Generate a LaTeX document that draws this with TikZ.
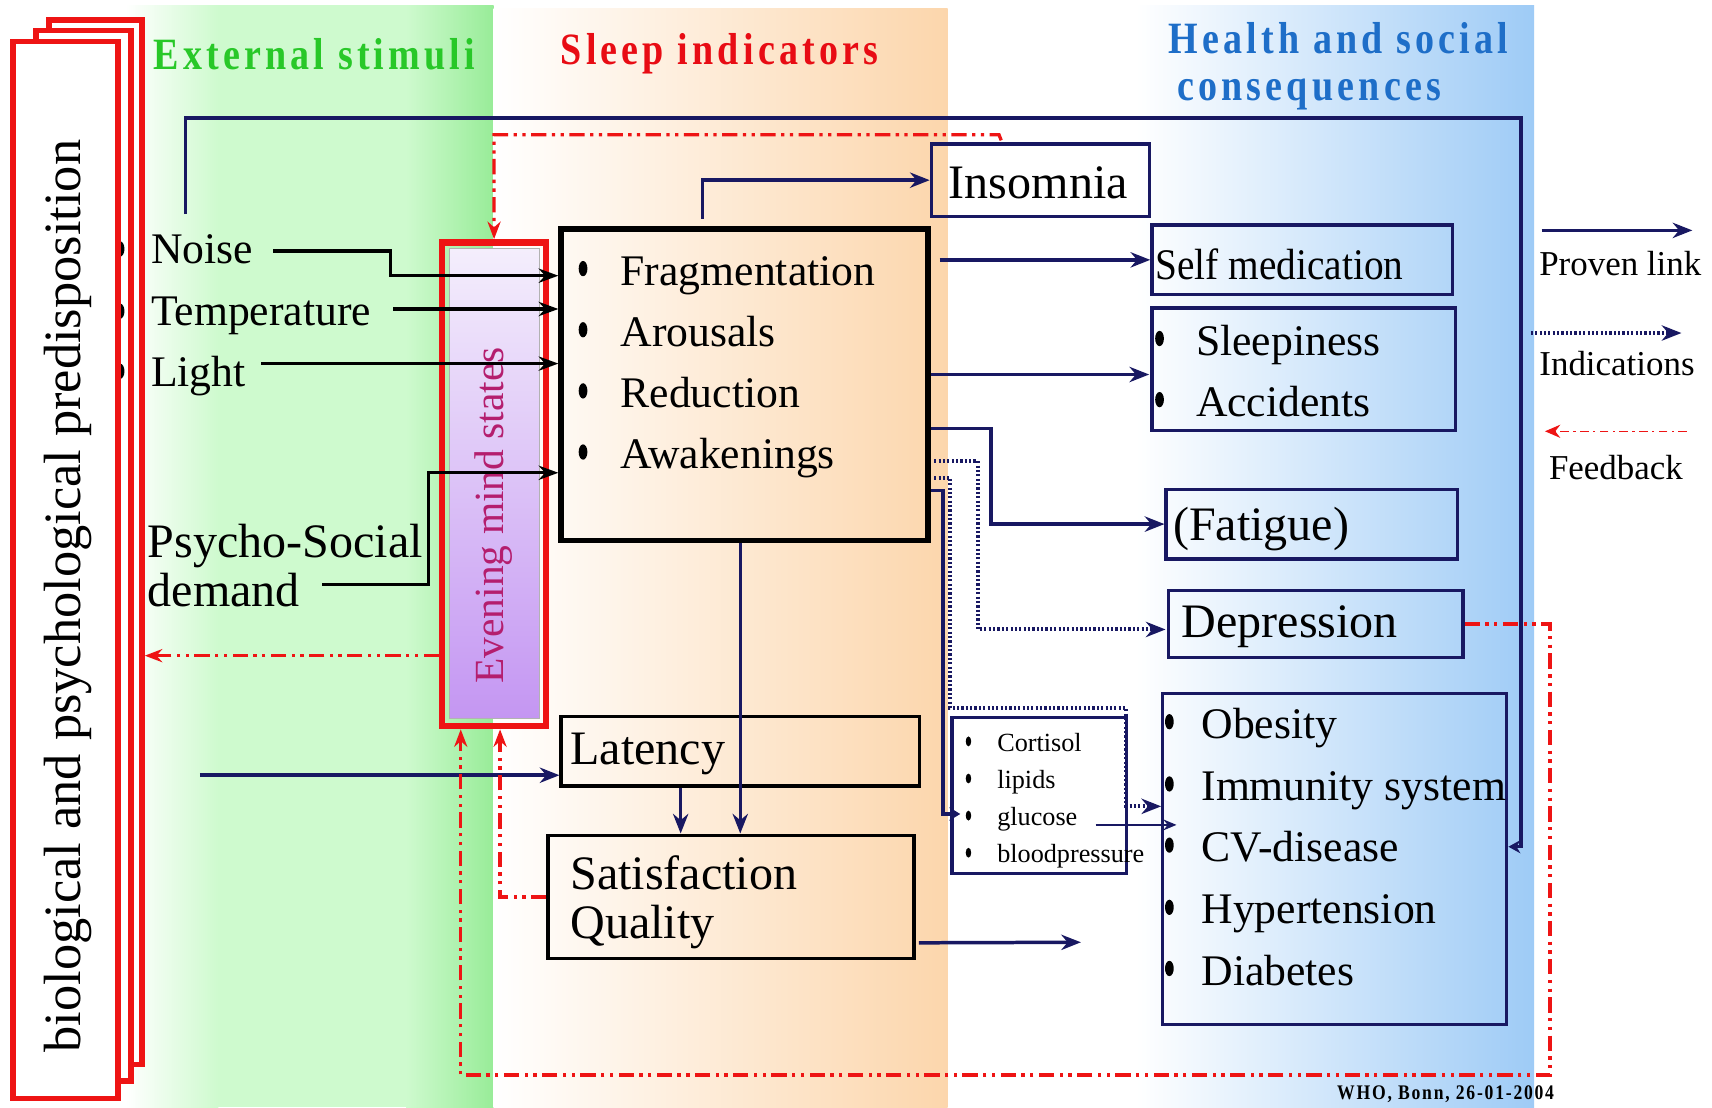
\documentclass[tikz,border=0pt]{standalone}
\usepackage{fontspec}
\setmainfont{Liberation Serif}
\newfontfamily\hdfont[LetterSpace=11]{Liberation Serif Bold}
\newfontfamily\whofont[LetterSpace=10]{Liberation Serif Bold}
\usetikzlibrary{arrows.meta,calc,fit,shapes.geometric}
\definecolor{navy}{RGB}{24,24,98}
\definecolor{redA}{RGB}{238,20,20}
\definecolor{grA}{RGB}{206,250,206}
\definecolor{grB}{RGB}{152,236,152}
\definecolor{orA}{RGB}{252,214,172}
\definecolor{blA}{RGB}{158,203,246}
\definecolor{hdG}{RGB}{40,200,40}
\definecolor{hdR}{RGB}{232,12,20}
\definecolor{hdB}{RGB}{30,110,200}
\definecolor{evT}{RGB}{180,30,110}
\definecolor{evTop}{RGB}{244,238,252}
\definecolor{evBot}{RGB}{196,150,242}
\begin{document}
\begin{tikzpicture}[x=0.5pt,y=-0.5pt,
 navyarr/.style={draw=navy,line width=1.6pt,-{Stealth[length=9pt,width=7pt]}},
 blackarr/.style={draw=black,line width=1.5pt,-{Stealth[length=9pt,width=6.5pt]}},
 dotarr/.style={draw=navy,line width=1.8pt,dash pattern=on 1pt off 1pt,-{Stealth[length=9pt,width=7pt]}},
 fbarr/.style={draw=redA,line width=1.5pt,dash pattern=on 7pt off 2.5pt on 1.5pt off 2.5pt on 1.5pt off 2.5pt,-{Stealth[length=8pt,width=6pt]}},
 stackbox/.style={draw=redA,line width=2.6pt,fill=white,inner sep=0pt},
 navybox/.style={draw=navy,line width=1.5pt,inner sep=0pt},
 blackbox/.style={draw=black,line width=1.6pt,inner sep=0pt},
 bulletdot/.style={ellipse,fill=black,minimum width=4pt,minimum height=7pt,inner sep=0pt},
 smalldot/.style={ellipse,fill=black,minimum width=2.5pt,minimum height=4.5pt,inner sep=0pt},
 txa/.style={inner sep=0pt,anchor=west,font=\fontsize{20}{24}\selectfont,text height=13.2pt,text depth=0pt},
 txb/.style={inner sep=0pt,anchor=west,font=\fontsize{22}{26}\selectfont,text height=14.6pt,text depth=0pt},
 txl/.style={inner sep=0pt,font=\fontsize{16}{19}\selectfont},
 txs/.style={inner sep=0pt,anchor=west,font=\fontsize{12}{14}\selectfont,text height=8pt,text depth=0pt},
 hdr/.style={inner sep=0pt,anchor=base,font=\hdfont\fontsize{20.5}{24}\selectfont},
]
\useasboundingbox (0,0) rectangle (1568,1014);
\fill[white] (0,0) rectangle (1568,1014);
% background panels
\shade[left color=white,right color=grA] (115,5) rectangle (200,1014);
\fill[grA] (200,5) rectangle (372,1014);
\shade[left color=grA,right color=grB] (372,5) rectangle (452,1014);
\shade[left color=white,right color=orA] (452,8) rectangle (868,1014);
\shade[left color=white,right color=blA] (1040,5) rectangle (1405,1014);
% headers
\node[hdr,text=hdG] (hExt) at (288,64) {\scalebox{0.85}[1]{External stimuli}};
\node[hdr,text=hdR] (hSleep) at (659,59) {\scalebox{0.85}[1]{Sleep indicators}};
\node[hdr,text=hdB] (hHealthA) at (1226,49) {\scalebox{0.85}[1]{Health and social}};
\node[hdr,text=hdB] (hHealthB) at (1199,92) {\scalebox{0.85}[1]{consequences}};
% red stacked boxes
\node[stackbox,fit={(45,18) (130,975)}] (stkC) {};
\node[stackbox,fit={(33,28) (120,990)}] (stkB) {};
\node[bulletdot] (hb1) at (110,228) {};
\node[bulletdot] (hb2) at (110,285) {};
\node[bulletdot] (hb3) at (110,340) {};
\node[stackbox,fit={(12,38) (108,1006)}] (stkA) {};
\node[rotate=90,inner sep=0pt,font=\fontsize{24}{28}\selectfont] (bio) at (62,546) {biological and psychological predisposition};
% evening mind states
\node[fit={(412,228) (494,658)},inner sep=0pt,draw=gray!60,line width=0.5pt,top color=evTop,bottom color=evBot] (evin) {};
\node[fit={(405,222) (500,665)},inner sep=0pt,draw=redA,line width=3pt] (evening) {};
\node[rotate=90,text=evT,inner sep=0pt,font=\fontsize{19}{22}\selectfont] (evtext) at (452,472) {Evening mind states};
% stimuli texts
\node[txa] (noise) at (138,228) {Noise};
\node[txa] (temp) at (138,285) {Temperature};
\node[txa] (light) at (138,341) {Light};
\node[txb] (psycho) at (135,496) {Psycho-Social};
\node[txb] (demand) at (135,541) {demand};
% sleep indicators box
\node[fit={(514,210) (850,495)},inner sep=0pt,draw=black,line width=2.6pt] (sleep) {};
\node[bulletdot] (sb1) at (534,246) {};
\node[bulletdot] (sb2) at (534,302) {};
\node[bulletdot] (sb3) at (534,358) {};
\node[bulletdot] (sb4) at (534,414) {};
\node[txa] (frag) at (568,248) {Fragmentation};
\node[txa] (arous) at (568,304) {Arousals};
\node[txa] (reduc) at (568,360) {Reduction};
\node[txa] (awak) at (568,416) {Awakenings};
% latency and satisfaction
\node[blackbox,fit={(514,656) (842,720)}] (latency) {};
\node[txb] (latT) at (522,686) {Latency};
\node[blackbox,fit={(502,765) (837,878)}] (satisf) {};
\node[txb] (satT) at (522,800) {Satisfaction};
\node[txb] (qualT) at (522,845) {Quality};
% consequences
\node[navybox,fit={(853,132) (1053,198)}] (insomnia) {};
\node[txb,anchor=center] (insT) at (951,167) {Insomnia};
\node[navybox,fit={(1055,206) (1330,270)}] (selfmed) {};
\node[txa] (selfT) at (1058,243) {\scalebox{0.9}[1]{Self medication}};
\node[navybox,fit={(1055,282) (1333,394)}] (sleepy) {};
\node[bulletdot] (yb1) at (1062,310) {};
\node[bulletdot] (yb2) at (1062,366) {};
\node[txa] (sleepT) at (1095,312) {Sleepiness};
\node[txa] (accT) at (1095,368) {Accidents};
\node[navybox,fit={(1068,448) (1335,512)}] (fatigue) {};
\node[txb] (fatT) at (1074,480) {(Fatigue)};
\node[navybox,fit={(1070,541) (1340,602)}] (depression) {};
\node[txb] (depT) at (1082,569) {Depression};
\node[navybox,fit={(1065,635) (1380,938)}] (obesity) {};
\foreach \yy/\nm/\tt in {663/obA/Obesity,720/obB/Immunity system,776/obC/CV-disease,833/obD/Hypertension,889/obE/Diabetes}{
  \node[bulletdot] (\nm d) at (1071,\yy-2) {};
  \node[txa] (\nm) at (1100,\yy) {\tt};
}
\node[navybox,fill=white,fit={(872,657) (1032,800)}] (cortisol) {};
\foreach \yy/\nm/\tt in {680/coA/Cortisol,714/coB/lipids,748/coC/glucose,782/coD/bloodpressure}{
  \node[smalldot] (\nm d) at (887,\yy-1) {};
  \node[txs] (\nm) at (913,\yy) {\tt};
}
% navy connectors
\coordinate (loopS) at (170,196);
\coordinate (loopC) at (1393,108);
\draw[draw=navy,line width=1.6pt,-{Stealth[length=5.5pt,width=6pt]}] (loopS) |- (loopC) |- ($(obesity.east)+(0,-11)$);
\coordinate (insS) at ($(sleep.north west)+(132,-7)$);
\draw[navyarr] (insS) |- (insomnia.west);
\draw[navyarr] ($(sleep.east |- selfmed.west)+(8,0)$) -- (selfmed.west);
\draw[navyarr] ($(sleep.east |- sleepy.west)+(0,5)$) -- ($(sleepy.west)+(-1,5)$);
\draw[navyarr] ($(sleep.north east)+(0,185)$) -- ++(55,0) |- (fatigue.west);
\draw[dotarr] ($(sleep.north east)+(3,215)$) -- ++(40,0) |- ($(depression.west)+(-1,5)$);
\draw[dotarr] ($(sleep.north east)+(3,230)$) -| ($(cortisol.north west)+(0,-7)$) -| ($(obesity.west)+(-32,-48)$) -- ($(obesity.west)+(0,-48)$);
\draw[draw=navy,line width=1.6pt,-{Stealth[length=5pt,width=6pt]}] ($(sleep.north east)+(0,242)$) -| ($(cortisol.west)+(-7,17)$) -- ($(cortisol.west)+(9,17)$);
\draw[draw=navy,line width=0.6pt,-{Stealth[length=6pt,width=5pt]}] ($(cortisol.east)+(-30,27)$) -- ($(obesity.west)+(14,-31)$);
\coordinate (satE) at (990,863);
\draw[navyarr] ($(satisf.east)+(3,42)$) -- (satE);
\coordinate (latS) at (183,710);
\draw[navyarr] (latS) -- (latS -| latency.west);
\coordinate (lsx) at ($(latency.south west)+(111,0)$);
\draw[navyarr] (lsx) -- (lsx |- satisf.north);
\coordinate (ssx) at ($(sleep.south)+(-4,0)$);
\draw[navyarr] (ssx) -- (ssx |- satisf.north);
% black stimulus arrows
\draw[blackarr] ($(noise.east)+(18,2)$) -| ($(sleep.west)+(-154,-100)$) -- ($(sleep.west)+(0,-100)$);
\draw[blackarr] ($(temp.east)+(20,-2)$) -- ($(sleep.west)+(0,-69.5)$);
\draw[blackarr] ($(light.east)+(14,-8)$) -- ($(sleep.west)+(0,-19.5)$);
\draw[blackarr] ($(demand.east)+(20,-6)$) -| ($(sleep.west)+(-119,80.5)$) -- ($(sleep.west)+(0,80.5)$);
% red feedback connectors
\draw[fbarr] ($(insomnia.north)+(-36,-2)$) -- ++(-2,-5) -| (evening.north);
\coordinate (fbA) at ($(evening.west)+(0,157)$);
\draw[fbarr] (fbA) -- (fbA -| stkC.east);
\draw[fbarr] (depression.east) -| ($(depression.east)+(78,413)$) -| ($(evening.south west)+(20,0)$);
\draw[fbarr] (satisf.west) -| ($(evening.south east)+(-45,0)$);
% legend
\coordinate (lgA1) at (1412,211); \coordinate (lgA2) at (1550,211);
\draw[navyarr] (lgA1) -- (lgA2);
\node[txl] (lgT1) at (1484,241) {Proven link};
\coordinate (lgB1) at (1402,305); \coordinate (lgB2) at (1540,305);
\draw[dotarr] (lgB1) -- (lgB2);
\node[txl] (lgT2) at (1481,333) {Indications};
\coordinate (lgC1) at (1545,395); \coordinate (lgC2) at (1415,395);
\draw[draw=redA,line width=0.7pt,dash pattern=on 4pt off 2pt on 1pt off 2pt,-{Stealth[length=7pt,width=6pt]}] (lgC1) -- (lgC2);
\node[txl] (lgT3) at (1480,428) {Feedback};
\node[inner sep=0pt,font=\whofont\fontsize{9.5}{11}\selectfont] (who) at (1324,1002) {\scalebox{0.85}[1]{WHO, Bonn, 26-01-2004}};
\end{tikzpicture}
\end{document}
